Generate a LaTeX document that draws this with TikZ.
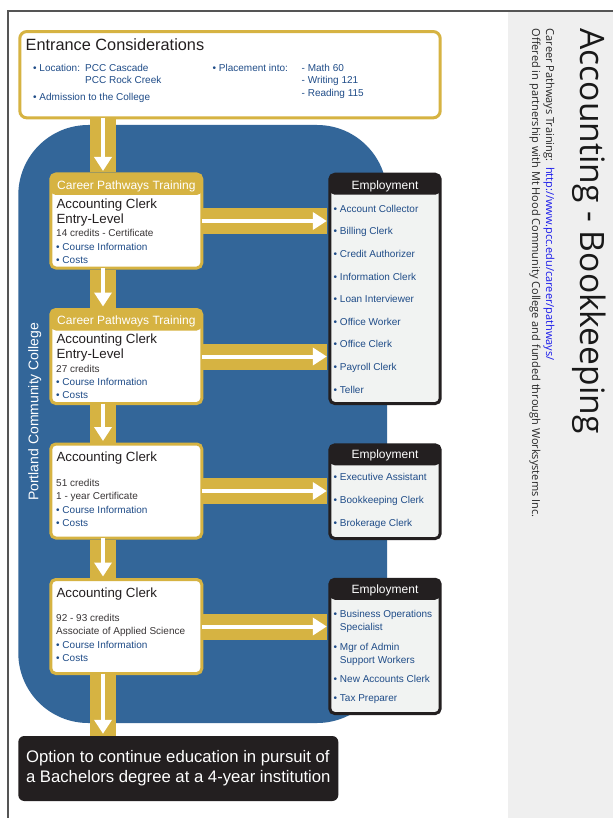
\documentclass[tikz,border=0pt]{standalone}
\usepackage{fontspec}
\setmainfont{Liberation Sans}
\newfontfamily\panelfont{Open Sans}
\usetikzlibrary{arrows.meta}
\definecolor{pccgold}{RGB}{214,179,66}
\definecolor{pccblue}{RGB}{51,102,153}
\definecolor{pccdark}{RGB}{35,31,32}
\definecolor{linkblue}{RGB}{31,76,136}
\definecolor{jobgrey}{RGB}{241,243,242}
\definecolor{panelgrey}{RGB}{239,239,239}
\definecolor{framegrey}{RGB}{85,85,85}
\definecolor{urlblue}{RGB}{25,25,235}
\tikzset{
  band/.style={draw=pccgold, line width=26pt},
  flow/.style={draw=white, line width=4pt, -{Triangle[width=17pt,length=14pt]}, shorten <=-1.5pt, shorten >=1.5pt},
  entrbox/.style={draw=pccgold, line width=3pt, fill=white, rounded corners=7pt, minimum width=420.4pt, minimum height=86.3pt, inner sep=0pt},
  stage/.style={draw=pccgold, line width=3pt, fill=white, rounded corners=5pt, minimum width=151pt, minimum height=94pt, inner sep=0pt},
  stagehead/.style={stage, path picture={\fill[pccgold] (path picture bounding box.north west) rectangle ([yshift=-21pt]path picture bounding box.north east);}},
  jobs/.style={draw=pccdark, line width=3pt, fill=jobgrey, rounded corners=5pt, minimum width=110.4pt, inner sep=0pt, path picture={\fill[pccdark] (path picture bounding box.north west) rectangle ([yshift=-20.5pt]path picture bounding box.north east);}},
  finalbox/.style={fill=pccdark, rounded corners=6pt, minimum width=320pt, minimum height=65pt, inner sep=0pt, text=white, align=left, font=\fontsize{16.7}{20}\selectfont},
  headtxt/.style={text=white, font=\fontsize{12}{14}\selectfont, inner sep=0pt},
  titletxt/.style={text=pccdark, font=\fontsize{13.3}{15}\selectfont, align=left, inner sep=0pt, anchor=base west},
  smalltxt/.style={text=pccdark!90, font=\fontsize{10}{13.3}\selectfont, align=left, inner sep=0pt, anchor=base west},
  entrytxt/.style={text=linkblue, font=\fontsize{10}{12.7}\selectfont, align=left, inner sep=0pt, anchor=base west},
  jobtxt/.style={text=linkblue, font=\fontsize{10}{13.3}\selectfont, align=left, inner sep=0pt, anchor=base west},
  sidetxt/.style={rotate=-90, anchor=base west, inner sep=0pt, align=left}
}
\begin{document}
\begin{tikzpicture}[x=1pt,y=-1pt]
\useasboundingbox (0,0) rectangle (613,818);
\fill[white] (0,0) rectangle (613,818);
\fill[panelgrey] (508.3,11) rectangle (613,818);
\draw[framegrey, line width=1.2pt] (8,818) -- (8,11) -- (613,11);
\fill[pccblue, rounded corners=70pt] (18.3,125) rectangle (387,723);
\node[rotate=90, anchor=base, text=white, font=\fontsize{14}{16}\selectfont, inner sep=0pt] (pcc) at (38.3,411.7) {Portland Community College};
\coordinate (spine) at (103,0);
\node[entrbox] (entr) at (230,74.7) {};
\node[stagehead] (stg1) at (126.3,221) {};
\node[stagehead] (stg2) at (126.3,356.5) {};
\node[stage] (stg3) at (126.3,491) {};
\node[stage] (stg4) at (126.3,626.5) {};
\node[jobs, minimum height=229.3pt] (emp1) at (385,288.9) {};
\node[jobs, minimum height=93.7pt] (emp2) at (385,491.7) {};
\node[jobs, minimum height=134.3pt] (emp3) at (385,646.4) {};
\node[finalbox] (bach) at (178.3,768.5) {Option to continue education in pursuit of\\a Bachelors degree at a 4-year institution};
\draw[band] (entr.south -| spine) -- (stg1.north -| spine);
\draw[band] (stg1.south -| spine) -- (stg2.north -| spine);
\draw[band] (stg2.south -| spine) -- (stg3.north -| spine);
\draw[band] (stg3.south -| spine) -- (stg4.north -| spine);
\draw[band] (stg4.south -| spine) -- (bach.north -| spine);
\draw[band, shorten >=1.5pt] (stg1.east) -- (emp1.west |- stg1.east);
\draw[band, shorten >=1.5pt] (stg2.east) -- (emp1.west |- stg2.east);
\draw[band, shorten >=1.5pt] (stg3.east) -- (emp2.west |- stg3.east);
\draw[band, shorten >=1.5pt] (stg4.east) -- (emp3.west |- stg4.east);
\draw[flow] (entr.south -| spine) -- (stg1.north -| spine);
\draw[flow] (stg1.south -| spine) -- (stg2.north -| spine);
\draw[flow] (stg2.south -| spine) -- (stg3.north -| spine);
\draw[flow] (stg3.south -| spine) -- (stg4.north -| spine);
\draw[flow, shorten >=2pt] (stg4.south -| spine) -- (bach.north -| spine);
\draw[flow] (stg1.east) -- (emp1.west |- stg1.east);
\draw[flow] (stg2.east) -- (emp1.west |- stg2.east);
\draw[flow] (stg3.east) -- (emp2.west |- stg3.east);
\draw[flow] (stg4.east) -- (emp3.west |- stg4.east);
\node[anchor=base west, inner sep=0pt, text=pccdark, font=\fontsize{16.3}{19}\selectfont] (entrt) at (25.5,50.7) {Entrance Considerations};
\node[entrytxt] (loc) at (33,71.3) {• Location:};
\node[entrytxt] (locs) at (85,84) {PCC Cascade\\PCC Rock Creek};
\node[entrytxt] (adm) at (33,101) {• Admission to the College};
\node[entrytxt] (plc) at (212.5,71.3) {• Placement into:};
\node[entrytxt] (plcs) at (301.5,96.7) {- Math 60\\- Writing 121\\- Reading 115};
\node[headtxt, anchor=base west] (stg1h) at (57,189.2) {Career Pathways Training};
\node[titletxt] (stg1t) at (56.3,223.3) {Accounting Clerk\\Entry-Level};
\node[smalltxt] (stg1d) at (56,263.3) {14 credits - Certificate\\\textcolor{linkblue}{• Course Information}\\\textcolor{linkblue}{• Costs}};
\node[headtxt, anchor=base west] (stg2h) at (57,324.5) {Career Pathways Training};
\node[titletxt] (stg2t) at (56.3,358.3) {Accounting Clerk\\Entry-Level};
\node[smalltxt] (stg2d) at (56,398.6) {27 credits\\\textcolor{linkblue}{• Course Information}\\\textcolor{linkblue}{• Costs}};
\node[titletxt] (stg3t) at (56.3,461.6) {Accounting Clerk};
\node[smalltxt] (stg3d) at (56,526.5) {51 credits\\1 - year Certificate\\\textcolor{linkblue}{• Course Information}\\\textcolor{linkblue}{• Costs}};
\node[titletxt] (stg4t) at (56.3,597) {Accounting Clerk};
\node[smalltxt] (stg4d) at (56,661.5) {92 - 93 credits\\Associate of Applied Science\\\textcolor{linkblue}{• Course Information}\\\textcolor{linkblue}{• Costs}};
\node[headtxt, anchor=base] (emp1h) at (385,189.3) {Employment};
\node[jobtxt, font=\fontsize{10}{22.6}\selectfont] (job1) at (333.5,393.1) {• Account Collector\\• Billing Clerk\\• Credit Authorizer\\• Information Clerk\\• Loan Interviewer\\• Office Worker\\• Office Clerk\\• Payroll Clerk\\• Teller};
\node[headtxt, anchor=base] (emp2h) at (385,458.6) {Employment};
\node[jobtxt, font=\fontsize{10}{23}\selectfont] (job2) at (333.5,526.6) {• Executive Assistant\\• Bookkeeping Clerk\\• Brokerage Clerk};
\node[headtxt, anchor=base] (emp3h) at (385,593.6) {Employment};
\node[jobtxt] (job3a) at (333.5,630.6) {• Business Operations\\\phantom{• }Specialist};
\node[jobtxt] (job3b) at (333.5,663.3) {• Mgr of Admin\\\phantom{• }Support Workers};
\node[jobtxt] (job3c) at (333.5,682.3) {• New Accounts Clerk};
\node[jobtxt] (job3d) at (333.5,701.6) {• Tax Preparer};
\node[sidetxt, text=black!90, font=\panelfont\fontsize{33.6}{36}\selectfont] (title) at (580,28.3) {Accounting - Bookkeeping};
\node[sidetxt, text=black!85, font=\panelfont\fontsize{11}{14}\selectfont] (cpt) at (532,28.5) {Career Pathways Training:\ \ \textcolor{urlblue}{http://www.pcc.edu/career/pathways/}\\Offered in partnership with Mt Hood Community College and funded through Worksystems Inc.};
\end{tikzpicture}
\end{document}
